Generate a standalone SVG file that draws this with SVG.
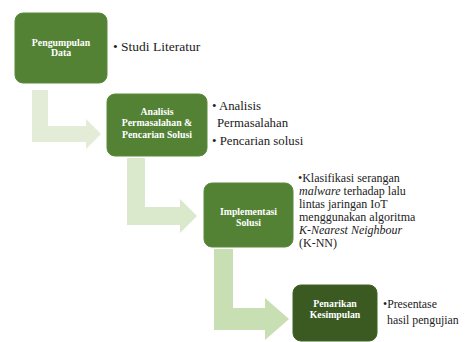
<svg xmlns="http://www.w3.org/2000/svg" width="476" height="342" viewBox="0 0 476 342">
<style>
.box{fill:#548235;stroke:#5b8a3c;stroke-width:1}
.dark{fill:#3a5a22;stroke:#3f6226}
.nt{font-weight:bold;font-size:9.8px;fill:#fff;text-anchor:middle}
.bt{fill:#222}
</style>
<rect width="476" height="342" fill="#fff"/>
<g id="connectors">
<path d="M32 90 H48 V126 H86 V119 L101 134 L86 149 V142 H32 Z" fill="#e2ecd7"/>
<path d="M127 158 H145 V207 H180 V199 L197 216 L180 233 V225 H127 Z" fill="#dae8cc"/>
<path d="M214 249 H233 V308 H265 V298 L289 319 L265 340 V330 H214 Z" fill="#c8dfb3"/>
</g>
<g font-family="Liberation Serif, Tinos, DejaVu Serif, serif">
<g id="node1">
<rect class="box" x="15" y="13" width="92" height="70" rx="8"/>
<text class="nt" x="61" y="46">Pengumpulan</text>
<text class="nt" x="61" y="56">Data</text>
<text class="bt" x="113" y="51" font-size="13.5">• Studi Literatur</text>
</g>
<g id="node2">
<rect class="box" x="107" y="94" width="100" height="62" rx="8"/>
<text class="nt" x="157" y="115">Analisis</text>
<text class="nt" x="157" y="126">Permasalahan &amp;</text>
<text class="nt" x="157" y="138">Pencarian Solusi</text>
<text class="bt" x="212" y="110" font-size="12.8">• Analisis</text>
<text class="bt" x="217" y="127" font-size="12.8">Permasalahan</text>
<text class="bt" x="212" y="145" font-size="12.8">• Pencarian solusi</text>
</g>
<g id="node3">
<rect class="box" x="204" y="183" width="89" height="64" rx="8"/>
<text class="nt" x="248.5" y="215">Implementasi</text>
<text class="nt" x="248.5" y="226">Solusi</text>
<g class="bt" font-size="12">
<text x="298" y="182">•Klasifikasi serangan</text>
<text x="299" y="195"><tspan font-style="italic">malware</tspan> terhadap lalu</text>
<text x="299" y="208">lintas jaringan IoT</text>
<text x="299" y="221">menggunakan algoritma</text>
<text x="299" y="234" font-style="italic">K-Nearest Neighbour</text>
<text x="299" y="247">(K-NN)</text>
</g>
</g>
<g id="node4">
<rect class="box dark" x="293" y="285" width="84" height="56" rx="8"/>
<text class="nt" x="335" y="307">Penarikan</text>
<text class="nt" x="335" y="318">Kesimpulan</text>
<text class="bt" x="383" y="308" font-size="11.8">•Presentase</text>
<text class="bt" x="387" y="324" font-size="11.8">hasil pengujian</text>
</g>
</g>
</svg>
